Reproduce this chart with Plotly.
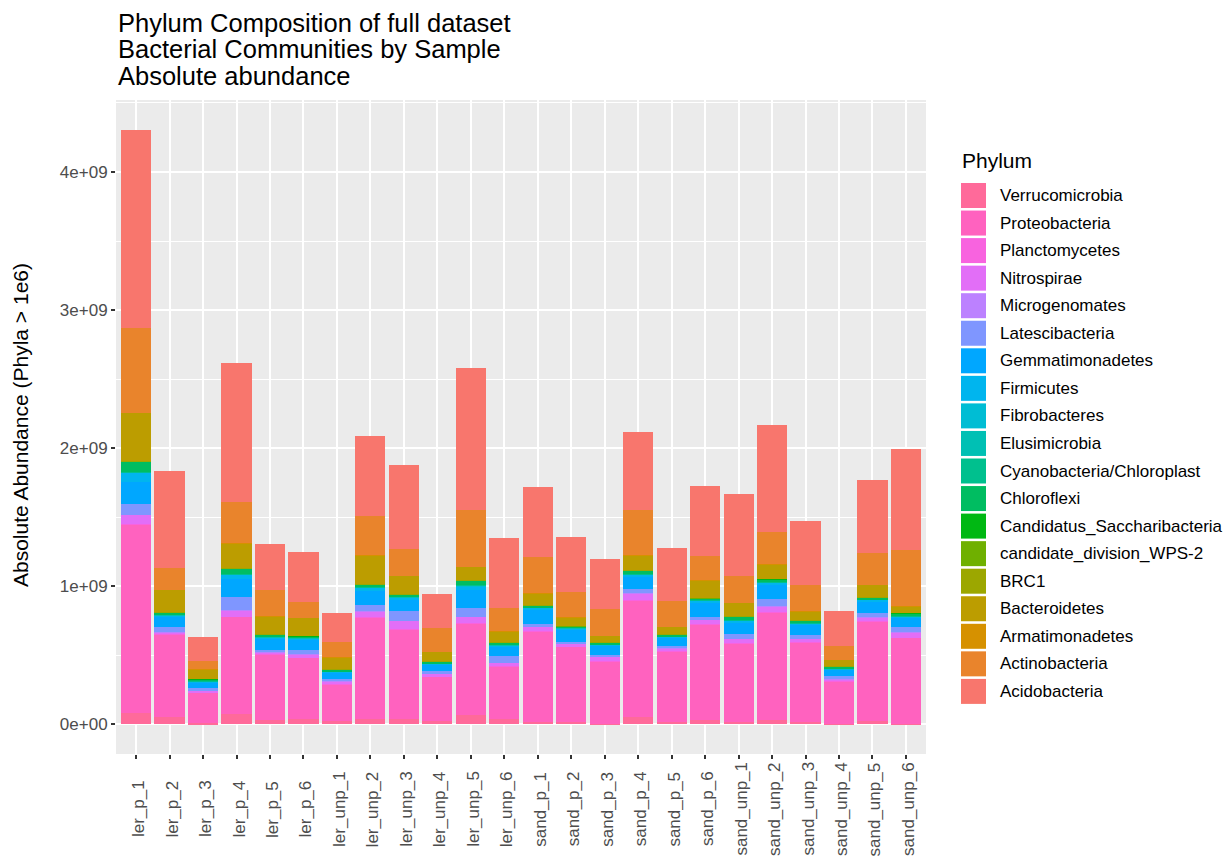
import math
import plotly.graph_objects as go

# Samples on the x axis
samples = ["ler_p_1", "ler_p_2", "ler_p_3", "ler_p_4", "ler_p_5", "ler_p_6",
           "ler_unp_1", "ler_unp_2", "ler_unp_3", "ler_unp_4", "ler_unp_5", "ler_unp_6",
           "sand_p_1", "sand_p_2", "sand_p_3", "sand_p_4", "sand_p_5", "sand_p_6",
           "sand_unp_1", "sand_unp_2", "sand_unp_3", "sand_unp_4", "sand_unp_5", "sand_unp_6"]

# Absolute abundance per phylum and sample, in units of 1e9 reads
verrucomicrobia = [0.080, 0.051, 0.009, 0.074, 0.029, 0.036, 0.024, 0.041, 0.036, 0.024, 0.065, 0.036,
                   0.017, 0.017, 0.005, 0.053, 0.019, 0.031, 0.017, 0.031, 0.017, 0.003, 0.024, 0.005]
proteobacteria = [1.367, 0.598, 0.221, 0.703, 0.479, 0.445, 0.264, 0.735, 0.653, 0.320, 0.667, 0.385,
                  0.656, 0.543, 0.452, 0.843, 0.510, 0.694, 0.568, 0.778, 0.576, 0.310, 0.723, 0.621]
planctomycetes = [0.004, 0.002, 0.001, 0.003, 0.001, 0.001, 0.001, 0.002, 0.003, 0.001, 0.003, 0.001,
                  0.002, 0.001, 0.001, 0.003, 0.001, 0.002, 0.002, 0.003, 0.001, 0.001, 0.002, 0.002]
nitrospirae = [0.066, 0.015, 0.012, 0.043, 0.014, 0.024, 0.022, 0.041, 0.057, 0.021, 0.043, 0.024,
               0.030, 0.025, 0.030, 0.048, 0.022, 0.029, 0.031, 0.041, 0.024, 0.012, 0.026, 0.039]
microgenomates = [0.0015, 0.0012, 0.0011, 0.0014, 0.0011, 0.0012, 0.0011, 0.0013, 0.0015, 0.0011, 0.0014, 0.0012,
                  0.0012, 0.0011, 0.0011, 0.0014, 0.0011, 0.0012, 0.0013, 0.0014, 0.0012, 0.0011, 0.0012, 0.0012]
latescibacteria = [0.077, 0.037, 0.020, 0.094, 0.014, 0.031, 0.019, 0.046, 0.070, 0.017, 0.065, 0.048,
                   0.018, 0.012, 0.011, 0.029, 0.014, 0.019, 0.037, 0.055, 0.029, 0.019, 0.027, 0.033]
gemmatimonadetes = [0.157, 0.076, 0.040, 0.134, 0.084, 0.079, 0.044, 0.099, 0.080, 0.050, 0.130, 0.070,
                    0.110, 0.088, 0.067, 0.090, 0.060, 0.101, 0.083, 0.096, 0.074, 0.048, 0.085, 0.070]
firmicutes = [0.072, 0.010, 0.006, 0.029, 0.008, 0.006, 0.004, 0.022, 0.019, 0.006, 0.027, 0.007,
              0.008, 0.008, 0.007, 0.018, 0.008, 0.020, 0.013, 0.018, 0.008, 0.006, 0.014, 0.010]
fibrobacteres = [0.0012, 0.0011, 0.0011, 0.0012, 0.0011, 0.0011, 0.0011, 0.0012, 0.0012, 0.0011, 0.0012, 0.0011,
                 0.0011, 0.0011, 0.0011, 0.0012, 0.0011, 0.0011, 0.0011, 0.0012, 0.0011, 0.0011, 0.0011, 0.0011]
elusimicrobia = [0.0011, 0.0011, 0.0011, 0.0011, 0.0011, 0.0011, 0.0011, 0.0011, 0.0011, 0.0011, 0.0011, 0.0011,
                 0.0011, 0.0011, 0.0011, 0.0011, 0.0011, 0.0011, 0.0011, 0.0011, 0.0011, 0.0011, 0.0011, 0.0011]
cyanobacteria = [0.0020, 0.0012, 0.0011, 0.0016, 0.0012, 0.0012, 0.0011, 0.0015, 0.0013, 0.0011, 0.0016, 0.0012,
                 0.0013, 0.0012, 0.0011, 0.0015, 0.0012, 0.0013, 0.0012, 0.0015, 0.0012, 0.0011, 0.0012, 0.0013]
chloroflexi = [0.071, 0.014, 0.014, 0.040, 0.014, 0.012, 0.012, 0.019, 0.017, 0.012, 0.036, 0.015,
               0.014, 0.012, 0.013, 0.022, 0.012, 0.012, 0.022, 0.024, 0.015, 0.012, 0.012, 0.020]
saccharibacteria = [0.0016, 0.0012, 0.0011, 0.0014, 0.0011, 0.0011, 0.0011, 0.0013, 0.0012, 0.0011, 0.0014, 0.0011,
                    0.0012, 0.0011, 0.0011, 0.0013, 0.0011, 0.0012, 0.0012, 0.0013, 0.0011, 0.0011, 0.0012, 0.0012]
wps2 = [0.0011, 0.0011, 0.0011, 0.0011, 0.0011, 0.0011, 0.0011, 0.0011, 0.0011, 0.0011, 0.0011, 0.0011,
        0.0011, 0.0011, 0.0011, 0.0011, 0.0011, 0.0011, 0.0011, 0.0011, 0.0011, 0.0011, 0.0011, 0.0011]
brc1 = [0.0018, 0.0012, 0.0011, 0.0014, 0.0012, 0.0012, 0.0011, 0.0014, 0.0012, 0.0011, 0.0013, 0.0011,
        0.0012, 0.0011, 0.0011, 0.0013, 0.0011, 0.0012, 0.0012, 0.0013, 0.0011, 0.0011, 0.0012, 0.0011]
bacteroidetes = [0.352, 0.163, 0.066, 0.183, 0.131, 0.130, 0.087, 0.212, 0.132, 0.067, 0.094, 0.077,
                 0.085, 0.060, 0.048, 0.111, 0.053, 0.126, 0.099, 0.101, 0.068, 0.048, 0.089, 0.045]
armatimonadetes = [0.0017, 0.0012, 0.0011, 0.0014, 0.0011, 0.0011, 0.0011, 0.0013, 0.0012, 0.0011, 0.0014, 0.0012,
                   0.0012, 0.0011, 0.0011, 0.0013, 0.0011, 0.0012, 0.0012, 0.0013, 0.0011, 0.0011, 0.0012, 0.0012]
actinobacteria = [0.614, 0.154, 0.062, 0.297, 0.186, 0.111, 0.113, 0.284, 0.193, 0.169, 0.410, 0.173,
                  0.265, 0.186, 0.190, 0.325, 0.188, 0.174, 0.191, 0.237, 0.186, 0.099, 0.232, 0.406]
acidobacteria = [1.434, 0.703, 0.172, 1.009, 0.340, 0.366, 0.210, 0.579, 0.607, 0.246, 1.031, 0.501,
                 0.506, 0.397, 0.362, 0.562, 0.378, 0.509, 0.599, 0.773, 0.466, 0.254, 0.529, 0.737]

# Stacking order, bottom to top (also the legend order, top to bottom)
phyla = ["Verrucomicrobia", "Proteobacteria", "Planctomycetes", "Nitrospirae", "Microgenomates",
         "Latescibacteria", "Gemmatimonadetes", "Firmicutes", "Fibrobacteres", "Elusimicrobia",
         "Cyanobacteria/Chloroplast", "Chloroflexi", "Candidatus_Saccharibacteria",
         "candidate_division_WPS-2", "BRC1", "Bacteroidetes", "Armatimonadetes",
         "Actinobacteria", "Acidobacteria"]
series = [verrucomicrobia, proteobacteria, planctomycetes, nitrospirae, microgenomates,
          latescibacteria, gemmatimonadetes, firmicutes, fibrobacteres, elusimicrobia,
          cyanobacteria, chloroflexi, saccharibacteria, wps2, brc1, bacteroidetes,
          armatimonadetes, actinobacteria, acidobacteria]
SCALE = 1e9

y_tick_values = [0, 1e9, 2e9, 3e9, 4e9]
y_tick_labels = ["0e+00", "1e+09", "2e+09", "3e+09", "4e+09"]

title_lines = ["Phylum Composition of full dataset",
               "Bacterial Communities by Sample",
               "Absolute abundance"]


def hcl_hex(h, c=100.0, l=65.0):
    """Polar LUV -> sRGB hex, as R's grDevices::hcl does."""
    white_y, white_u, white_v = 100.0, 0.1978398, 0.4683363
    hr = math.radians(h)
    L = l
    U = c * math.cos(hr)
    V = c * math.sin(hr)
    Y = white_y * (((L + 16) / 116) ** 3 if L > 7.999592 else L / 903.3)
    u = U / (13 * L) + white_u
    v = V / (13 * L) + white_v
    X = 9.0 * Y * u / (4 * v)
    Z = -X / 3 - 5 * Y + 3 * Y / v

    def gtrans(t):
        return 1.055 * t ** (1 / 2.4) - 0.055 if t > 0.00304 else 12.92 * t

    r = gtrans((3.240479 * X - 1.537150 * Y - 0.498535 * Z) / white_y)
    g = gtrans((-0.969256 * X + 1.875992 * Y + 0.041556 * Z) / white_y)
    b = gtrans((0.055648 * X - 0.204043 * Y + 1.057311 * Z) / white_y)
    cl = [min(1.0, max(0.0, t)) for t in (r, g, b)]
    return "#%02X%02X%02X" % tuple(int(round(t * 255)) for t in cl)


# ggplot2-like hue palette; factor levels run opposite to the stacking order
n = len(phyla)
colors = {}
for i, name in enumerate(phyla):
    level = n - 1 - i
    colors[name] = hcl_hex(15 + level * 360.0 / n)

# Figure geometry (pixels)
W, H = 1231, 866
ML, MR, MT, MB = 116, 305, 100, 112
PW, PH = W - ML - MR, H - MT - MB


def px_x(px):
    return (px - ML) / PW


def px_y(py):
    return (H - MB - py) / PH


FONT = "Liberation Sans, Arial, sans-serif"

fig = go.Figure()
for name, vals in zip(phyla, series):
    fig.add_trace(go.Bar(
        x=samples, y=[v * SCALE for v in vals], name=name,
        marker=dict(color=colors[name], line=dict(width=0)),
        width=0.9, showlegend=False,
    ))

totals = [sum(col) * SCALE for col in zip(*series)]
ymax = max(totals)
yrange = [-0.05 * ymax, 1.05 * ymax]
minor_vals = [(a + b) / 2 for a, b in zip(y_tick_values[:-1], y_tick_values[1:])] + [y_tick_values[-1] + 5e8]

annotations = []
# Title lines
for i, line in enumerate(title_lines):
    annotations.append(dict(
        text=line, xref="paper", yref="paper", x=px_x(116), y=px_y(22.5 + 27 * i),
        xanchor="left", yanchor="middle", showarrow=False,
        font=dict(family=FONT, size=25.5, color="black"),
    ))
# Y axis title
annotations.append(dict(
    text="Absolute Abundance (Phyla > 1e6)", xref="paper", yref="paper",
    x=px_x(20), y=px_y(425), textangle=-90, xanchor="center", yanchor="middle",
    showarrow=False, font=dict(family=FONT, size=21, color="black"),
))
# Sample labels, rotated and centred
for s in samples:
    annotations.append(dict(
        text=s, xref="x", yref="paper", x=s, y=px_y(809), textangle=-90,
        xanchor="center", yanchor="middle", xshift=3, showarrow=False,
        font=dict(family=FONT, size=17, color="#4D4D4D"),
    ))
# Legend
annotations.append(dict(
    text="Phylum", xref="paper", yref="paper", x=px_x(960), y=px_y(161),
    xanchor="left", yanchor="middle", showarrow=False,
    font=dict(family=FONT, size=21, color="black"),
))
shapes = []
for i, name in enumerate(phyla):
    cy = 195.5 + 27.55 * i
    shapes.append(dict(
        type="rect", xref="paper", yref="paper",
        x0=px_x(961), x1=px_x(986), y0=px_y(cy + 12.5), y1=px_y(cy - 12.5),
        fillcolor=colors[name], line=dict(width=0),
    ))
    annotations.append(dict(
        text=name, xref="paper", yref="paper", x=px_x(998), y=px_y(cy),
        xanchor="left", yanchor="middle", showarrow=False,
        font=dict(family=FONT, size=17, color="black"),
    ))

fig.update_layout(
    width=W, height=H,
    margin=dict(l=ML, r=MR, t=MT, b=MB, pad=0),
    barmode="stack",
    plot_bgcolor="#EBEBEB", paper_bgcolor="white",
    font=dict(family=FONT),
    showlegend=False,
    annotations=annotations,
    shapes=shapes,
    xaxis=dict(
        type="category", categoryorder="array", categoryarray=samples,
        range=[-0.6, len(samples) - 0.4],
        showticklabels=False, ticks="outside", ticklen=4, tickwidth=1.5, tickcolor="#333333",
        showgrid=True, gridcolor="white", gridwidth=2, zeroline=False, showline=False,
    ),
    yaxis=dict(
        range=yrange, tickmode="array", tickvals=y_tick_values, ticktext=y_tick_labels,
        ticks="outside", ticklen=4, tickwidth=1.5, tickcolor="#333333",
        tickfont=dict(family=FONT, size=17, color="#4D4D4D"),
        showgrid=True, gridcolor="white", gridwidth=2, zeroline=False, showline=False,
        minor=dict(tickmode="array", tickvals=minor_vals, showgrid=True,
                   gridcolor="white", gridwidth=1, ticks=""),
    ),
)

fig.write_html("out.html")
